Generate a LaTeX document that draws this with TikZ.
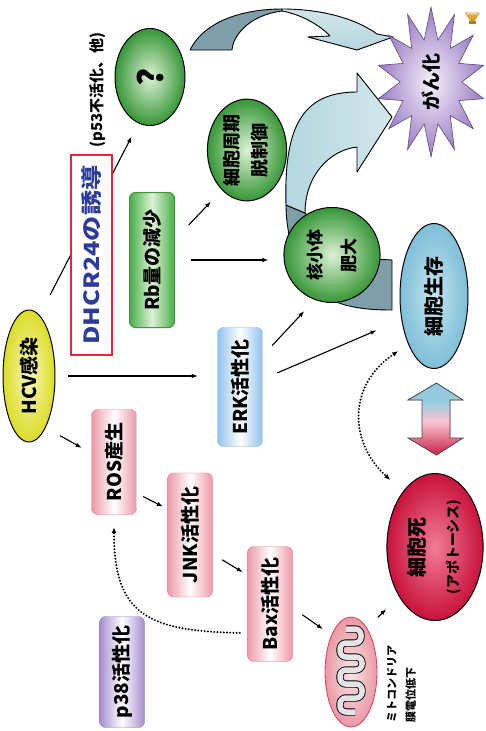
\documentclass[tikz,border=0pt]{standalone}
\usepackage{fontspec}
\usepackage{graphicx}
\setmainfont{Noto Sans CJK JP}
\usetikzlibrary{shapes.geometric,arrows.meta}

\definecolor{grnout}{HTML}{379637}
\definecolor{grnin}{HTML}{DDF2D6}
\definecolor{yelout}{HTML}{DCDC28}
\definecolor{yelin}{HTML}{F8F8B8}
\definecolor{pinkc}{HTML}{EE98A8}
\definecolor{pinkedge}{HTML}{E07C90}
\definecolor{bluec}{HTML}{90C2EC}
\definecolor{purc}{HTML}{A68CD0}
\definecolor{rbgreen}{HTML}{4AAE48}
\definecolor{survout}{HTML}{7EBFD8}
\definecolor{survin}{HTML}{C4E4F0}
\definecolor{deathout}{HTML}{C8123C}
\definecolor{deathin}{HTML}{F27C96}
\definecolor{starout}{HTML}{9A7CC4}
\definecolor{starin}{HTML}{F6F0FA}
\definecolor{bandlight}{HTML}{B4D6DE}
\definecolor{banddark}{HTML}{7E9EAA}
\definecolor{dhcrblue}{HTML}{2C3C9C}
\definecolor{dhcrred}{HTML}{E0283C}
\definecolor{mitoc}{HTML}{EC98A4}
\definecolor{goldc}{HTML}{D8A020}

% blue-to-red fill of the two-way arrow (0bp = bottom, 100bp = top)
\pgfdeclareverticalshading{swapshade}{100bp}{color(0bp)=(deathout); color(28bp)=(deathout!85!white);
  color(48bp)=(deathin!45!white); color(62bp)=(survout!80!white); color(100bp)=(survout)}

% vertical (rotated) labels
\newcommand{\vlab}[1]{\rotatebox{90}{#1}}
\newcommand{\vtwo}[3]{\rotatebox{90}{#1\begin{tabular}{@{}c@{}}#2\\#3\end{tabular}}}

\tikzset{
  lbl/.style={font=\fontsize{19}{24}\selectfont\bfseries},
  tagbox/.style={rectangle, rounded corners=6, minimum width=45, inner sep=0, lbl},
  pinkbox/.style={tagbox, draw=pinkedge, left color=pinkc, right color=pinkc, middle color=white},
  bluebox/.style={tagbox, draw=bluec!90!black, left color=bluec, right color=bluec, middle color=white},
  purbox/.style={tagbox, draw=purc!90!black, left color=purc, right color=purc, middle color=white},
  greenbox/.style={tagbox, draw=rbgreen!85!black, line width=1, left color=rbgreen, right color=rbgreen, middle color=grnin},
  gball/.style={ellipse, draw=black, line width=1, inner color=grnin, outer color=grnout, inner sep=0, lbl},
  arr/.style={line width=1.1, -{Latex[length=6,width=4.5]}},
  dots/.style={line width=2.2, line cap=round, dash pattern=on 0pt off 3.2pt},
  band/.style={draw=black, line width=0.9, line join=round},
}

\begin{document}
\begin{tikzpicture}[x=1pt,y=-1pt]
\useasboundingbox (0,0) rectangle (485,731);
\fill[white] (0,0) rectangle (485,731);

% ---- broad sweep arrow over the top ----
\filldraw[band, fill=banddark] (190,50) .. controls (205,20) and (245,9) .. (282,9)
  -- (282,11) .. controls (250,15) and (233,35) .. (232,50) -- cycle;
\filldraw[band, top color=bandlight!60!white, bottom color=bandlight] (282,9)
  .. controls (320,9) and (355,18) .. (377,34) -- (393,37) -- (357,50) -- (308,37)
  -- (330,36) .. controls (320,25) and (300,14) .. (282,11) -- cycle;

% ---- broad sweep arrow rising behind the nucleolus ----
\filldraw[band, fill=banddark] (286,205) .. controls (286,240) and (300,285) .. (330,300)
  -- (345,305) .. controls (360,309) and (375,310) .. (392,310) -- (392,260)
  -- (355,258) -- (305,213) -- cycle;
\filldraw[band, left color=bandlight, right color=bandlight!60!white] (357,92)
  .. controls (300,92) and (284,130) .. (286,205) -- (305,213)
  .. controls (305,175) and (330,150) .. (357,147) -- (357,172) -- (392,117)
  -- (357,73) -- cycle;

% ---- nodes ----
\node[ellipse, draw=black, line width=1, inner color=yelin, outer color=yelout,
      minimum width=52, minimum height=132, inner sep=0, lbl] (hcv) at (29,376) {\vlab{HCV感染}};
\node[gball, minimum width=70, minimum height=97, font=\fontsize{34}{36}\selectfont\bfseries] (q) at (150,77) {\vlab{?}};

% this connector runs underneath the DHCR24 box
\draw[arr, shorten <=23, shorten >=15] (hcv.80) -- (q.-104);

\node[rectangle, draw=dhcrred, line width=1.2, fill=white, minimum width=41, minimum height=200,
      inner sep=0, text=dhcrblue, font=\fontsize{21}{24}\selectfont\bfseries] (dhcr) at (91.5,255)
      {\vlab{\scalebox{1.2}[1]{DHCR24の誘導}}};

\node[font=\fontsize{15}{18}\selectfont\bfseries] (ptext) at (98,90) {\vlab{(p53不活化、他)}};

\node[greenbox, minimum height=135] (rb) at (152,260) {\vlab{Rb量の減少}};
\node[gball, minimum width=70, minimum height=96] (cyc) at (247,150)
  {\vtwo{\fontsize{18}{28}\selectfont}{細胞周期}{脱制御}};
\node[gball, minimum width=68, minimum height=95] (nuc) at (332,255)
  {\vtwo{\fontsize{17}{34}\selectfont}{核小体}{肥大}};

\node[ellipse, draw=black, line width=1, inner color=survin, outer color=survout,
      minimum width=68, minimum height=145, inner sep=0, font=\fontsize{20}{24}\selectfont\bfseries] (surv) at (434,296) {\vlab{細胞生存}};

\node[ellipse, draw=black, line width=1, inner color=deathin, outer color=deathout,
      minimum width=65, minimum height=147, inner sep=0, font=\bfseries] (death) at (435,547)
  {\rotatebox{90}{\fontsize{20}{34}\selectfont\begin{tabular}{@{}c@{}}細胞死\\{\fontsize{14}{16}\selectfont(アポトーシス)}\end{tabular}}};

\node[bluebox, minimum height=119] (erk) at (240,387) {\vlab{ERK活性化}};
\node[pinkbox, minimum height=105] (ros) at (114,462) {\vlab{ROS産生}};
\node[pinkbox, minimum height=124] (jnk) at (190,535) {\vlab{JNK活性化}};
\node[pinkbox, minimum height=115] (bax) at (270,604) {\vlab{Bax活性化}};
\node[purbox, minimum height=111] (p38) at (122,672) {\vlab{p38活性化}};

% mitochondrion with folded inner membrane
\node[ellipse, draw=deathout!80, line width=0.8, inner color=mitoc!25!white, outer color=mitoc,
      minimum width=52, minimum height=110, inner sep=0] (mito) at (351,672) {};
\draw[black, line width=0.9, double=gray!20, double distance=5.5, rounded corners=6]
  (346,629) -- (361,629) -- (361,643) -- (340,643) -- (340,657) -- (362,657) -- (362,670)
  -- (340,670) -- (340,684) -- (362,684) -- (362,698) -- (340,698) -- (340,712) -- (355,712);
\node[anchor=south, inner sep=0, font=\fontsize{11}{19}\selectfont\bfseries] (mitotext) at (401.5,723)
  {\rotatebox{90}{\begin{tabular}{@{}l@{}}ミトコンドリア\\膜電位低下\end{tabular}}};

% burst for malignant transformation
\node[star, star points=14, star point ratio=1.75, minimum size=150, inner sep=0, xscale=0.72,
      draw=starout!60!black, line width=0.6, inner color=starin, outer color=starout] (star) at (431,82) {};
\node[lbl] (gan) at (star) {\vlab{がん化}};

% small lamp mark in the corner
\fill[goldc] (465,13) -- (480,13) -- (474.5,21) -- (470.5,21) -- cycle;
\fill[goldc!80!black] (469,21) rectangle (476,23.5);
\fill[goldc!40!white] (466,12) -- (479,12) -- (478,14.5) -- (467,14.5) -- cycle;
\foreach \a in {200,230,260,290,320,350}
  \draw[goldc!60, line width=0.6] (472.5,11) ++(\a:-4) -- ++(\a:-4);

% exchange between survival and death
\filldraw[draw=black!70, line width=0.8, shading=swapshade]
  (436.5,383) -- (463,400) -- (450,400) -- (450,438) -- (463,438) -- (436.5,455)
  -- (408,438) -- (422,438) -- (422,400) -- (408,400) -- cycle;

% ---- connectors ----
\draw[arr, shorten <=20, shorten >=16] (rb.42) -- (cyc.-122.5);
\draw[arr, shorten <=15.5, shorten >=15] (rb.east) -- (rb.east -| nuc.west);
\draw[arr, shorten <=12, shorten >=19.5] (hcv.east) -- (hcv.east -| erk.west);
\draw[arr, shorten <=14, shorten >=15.5] (erk.54.3) -- (nuc.-111.9);
\draw[arr, shorten <=16, shorten >=27] (erk.19.1) -- (surv.-144.1);
\draw[arr, shorten <=16.6, shorten >=11] (hcv.-72) -- (ros.159.5);
\draw[arr, shorten <=7.3, shorten >=5] (ros.-54.7) -- (jnk.131.1);
\draw[arr, shorten <=11.2, shorten >=5.3] (jnk.-40.3) -- (bax.128.6);
\draw[arr, shorten <=11.7, shorten >=10.3] (bax.-10.6) -- (mito.118.6);
\draw[arr, shorten <=15, shorten >=17.8] (mito.70.4) -- (death.-126.2);

\draw[dots, -{Latex[length=6,width=5]}, shorten <=7.5, shorten >=12.5]
  (bax.-128.8) .. controls +(-100,-2) and +(0,100) .. (ros.south);
\draw[dots, {Latex[length=6,width=5]}-{Latex[length=6,width=5]}, shorten <=12, shorten >=17]
  (surv.-118.5) .. controls +(-60,40) and +(-55,-50) .. (death.120.3);
\end{tikzpicture}
\end{document}
